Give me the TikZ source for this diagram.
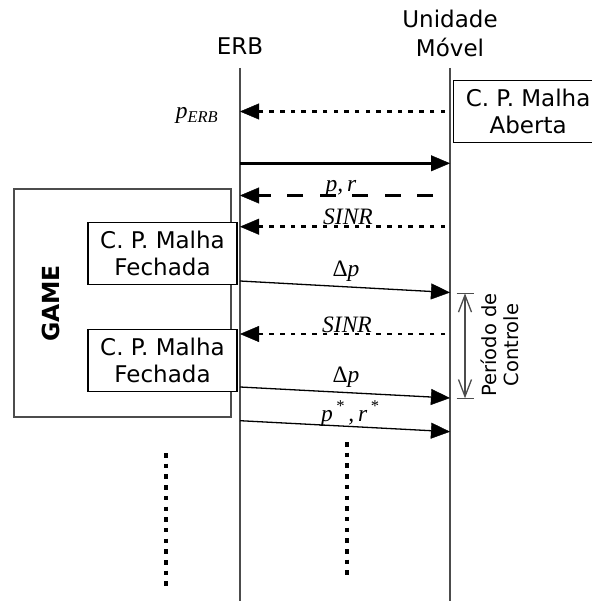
\documentclass[tikz,border=0pt]{standalone}
\usepackage{fontspec}
\setmainfont{DejaVu Sans}
\newfontfamily\tms{Liberation Serif}
\usetikzlibrary{arrows.meta}

\begin{document}
\begin{tikzpicture}[x=1pt,y=-1pt]

  % ---- sizing knobs ----
  \pgfmathsetmacro{\SDerbx}{240}   % ERB lifeline
  \pgfmathsetmacro{\SDumx}{450}    % mobile unit lifeline
  \pgfmathsetmacro{\SDtop}{68}     % lifelines start
  \pgfmathsetmacro{\SDbot}{601}    % lifelines end
  \pgfmathsetmacro{\SDboxw}{149}   % power control box width
  \pgfmathsetmacro{\SDboxh}{61.5}  % power control box height

  \definecolor{SDLine}{gray}{0.30}

  \useasboundingbox (0,0) rectangle (591,601);

  % ---- styles ----
  \tikzset{
    sdtext/.style={font=\fontsize{23}{27}\selectfont, align=center, inner sep=0pt},
    sdmath/.style={font=\tms\itshape\fontsize{23.5}{26}\selectfont, inner sep=0pt},
    pcbox/.style={sdtext, draw, fill=white, line width=1.2pt,
      minimum width=\SDboxw, minimum height=\SDboxh},
    life/.style={SDLine, line width=1.5pt},
    tip/.style={-{Triangle[length=19pt,width=16pt,line width=0.4pt]}},
    msg/.style={tip, line width=1.3pt},
    msgbold/.style={tip, line width=2.6pt},
    msgdot/.style={tip, line width=2.8pt, dash pattern=on 4.5pt off 6.2pt, shorten <=5pt},
    msgdash/.style={tip, line width=3pt, dash pattern=on 16pt off 16.5pt, shorten <=17pt},
    vdots/.style={line width=3.2pt, dash pattern=on 4.5pt off 6.2pt},
  }

  % ---- headers and lifelines ----
  \node[sdtext, anchor=south] (erb) at (\SDerbx,55) {ERB};
  \node[sdtext, anchor=south] (um) at (\SDumx,57) {Unidade\\[2pt]Móvel};

  \coordinate (erbTop) at (\SDerbx,\SDtop);
  \coordinate (erbBot) at (\SDerbx,\SDbot);
  \coordinate (umTop) at (\SDumx,\SDtop);
  \coordinate (umBot) at (\SDumx,\SDbot);
  \draw[life] (erbTop) -- (erbBot);
  \draw[life] (umTop) -- (umBot);

  % ---- game block ----
  \node[draw=SDLine, line width=1.8pt, minimum width=217, minimum height=228,
    inner sep=0pt] (game) at (122.5,303) {};
  \node[font=\bfseries\fontsize{23.5}{27}\selectfont, rotate=90, inner sep=0pt]
    (gameTxt) at (51,303.5) {GAME};

  % ---- power control boxes ----
  \node[pcbox, anchor=west] (pcOpen) at (453,111.5) {C. P. Malha\\Aberta};
  \node[pcbox] (pcClosedA) at (162.5,253.5) {C. P. Malha\\Fechada};
  \node[pcbox] (pcClosedB) at (162.5,360.5) {C. P. Malha\\Fechada};

  % ---- message end points ----
  \coordinate (e1) at (\SDerbx,111.5);  \coordinate (u1) at (\SDumx,111.5);
  \coordinate (e2) at (\SDerbx,163.3);  \coordinate (u2) at (\SDumx,163.3);
  \coordinate (e3) at (\SDerbx,195.5);  \coordinate (u3) at (\SDumx,195.5);
  \coordinate (e4) at (\SDerbx,226.7);  \coordinate (u4) at (\SDumx,226.7);
  \coordinate (e5) at (\SDerbx,281);    \coordinate (u5) at (\SDumx,292.5);
  \coordinate (e6) at (\SDerbx,334);    \coordinate (u6) at (\SDumx,334);
  \coordinate (e7) at (\SDerbx,387);    \coordinate (u7) at (\SDumx,398);
  \coordinate (e8) at (\SDerbx,420.7);  \coordinate (u8) at (\SDumx,431.7);

  % ---- messages ----
  \draw[msgdot] (u1) -- (e1);
  \draw[msgbold] (e2) -- (u2);
  \draw[msgdash] (u3) -- (e3);
  \draw[msgdot] (u4) -- (e4);
  \draw[msg] (e5) -- (u5);
  \draw[msgdot] (u6) -- (e6);
  \draw[msg] (e7) -- (u7);
  \draw[msg] (e8) -- (u8);

  % ---- message labels ----
  \node[sdmath, anchor=base] (lPerb) at (197,119) {p\textsubscript{ERB}};
  \node[sdmath, anchor=base] (lPR) at (341,192) {p,\,r};
  \node[sdmath, anchor=base] (lSinrA) at (348,225) {SINR};
  \node[sdmath, anchor=base] (lDpA) at (346,276) {{\upshape Δ}p};
  \node[sdmath, anchor=base] (lSinrB) at (347,332) {SINR};
  \node[sdmath, anchor=base] (lDpB) at (346,382) {{\upshape Δ}p};
  \node[sdmath, anchor=base] (lPRstar) at (350,421)
    {p\textsuperscript{\,*}\,,\,r\textsuperscript{\,*}};

  % ---- control period ----
  \coordinate (pcTop) at (465,293.3);
  \coordinate (pcBot) at (465,398.3);
  \draw[SDLine, line width=1.3pt,
    {Straight Barb[length=17pt,width=13pt]}-{Straight Barb[length=17pt,width=13pt]}]
    (pcTop) -- (pcBot);
  \draw[SDLine, line width=1.3pt] ([xshift=-8.5]pcTop) -- ([xshift=8.5]pcTop);
  \draw[SDLine, line width=1.3pt] ([xshift=-8.5]pcBot) -- ([xshift=8.5]pcBot);
  \node[font=\fontsize{19.5}{21.5}\selectfont, align=center, rotate=90, inner sep=0pt]
    (period) at (500,345) {Período de\\Controle};

  % ---- continuation dots ----
  \draw[vdots] (166,453) -- (166,589);
  \draw[vdots] (347,442) -- (347,578);

\end{tikzpicture}
\end{document}
